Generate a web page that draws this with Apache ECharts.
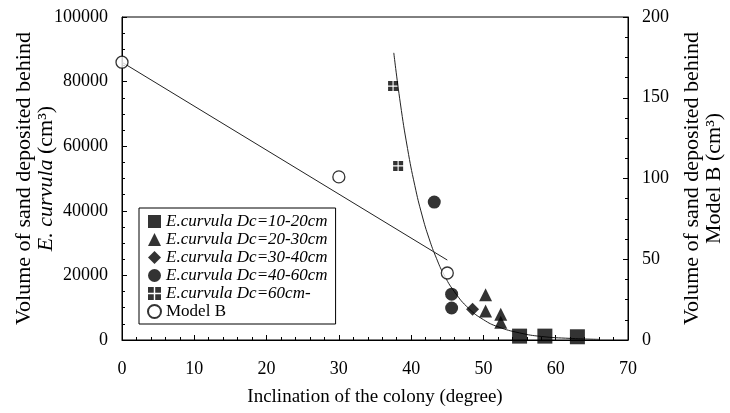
<!DOCTYPE html>
<html><head><meta charset="utf-8">
<script src="https://cdn.jsdelivr.net/npm/echarts@6/dist/echarts.min.js"></script>
<style>html,body{margin:0;padding:0;background:#fff}#c{width:730px;height:413px}</style>
</head><body><div id="c"></div>
<script>
// Data
const sq1020X = [55.0, 58.5, 63.0];
const sq1020Y = [1200, 1200, 1000];
const tri2030X = [50.3, 50.3, 52.4, 52.4];
const tri2030Y = [14000, 9000, 8000, 5500];
const dia3040X = [48.5];
const dia3040Y = [9500];
const cir4060X = [43.2, 45.6, 45.6];
const cir4060Y = [42700, 14200, 9900];
const sq60X = [37.5, 38.2];
const sq60Y = [78600, 53900];
const modelBX = [0, 30, 45];
const modelBY = [172, 101, 41.5];
const modelBLineX = [0, 45];
const modelBLineY = [172, 49.5];
const curveX = [37.6, 38.5, 39.5, 40.5, 41.5, 42.5, 43.5, 44.5, 46, 48, 50, 52, 55, 58, 62, 66];
const curveY = [88900, 73400, 59300, 47900, 38700, 31300, 25300, 20400, 14900, 9700, 6300, 4100, 2200, 1100, 500, 200];
const xTicks = [0, 10, 20, 30, 40, 50, 60, 70];
const legendNames = ['E.curvula Dc=10-20cm', 'E.curvula Dc=20-30cm', 'E.curvula Dc=30-40cm', 'E.curvula Dc=40-60cm', 'E.curvula Dc=60cm-', 'Model B'];

const zip = (a, b) => a.map((v, i) => [v, b[i]]);
const F = 'Liberation Serif, Times New Roman, serif';
const quad = 'path://M0,0h4v4h-4z M5,0h4v4h-4z M0,5h4v4h-4z M5,5h4v4h-4z';

const chart = echarts.init(document.getElementById('c'), null, {renderer: 'canvas'});
const tickStyle = {show: true, inside: true, length: 5, lineStyle: {color: '#000'}};
const axisCommon = {
  axisLine: {show: true, lineStyle: {color: '#000', width: 1}},
  axisTick: tickStyle,
  splitLine: {show: false},
  nameMoveOverlap: false
};
const lab = (m) => ({color: '#000', fontFamily: F, fontSize: 18, margin: m, formatter: v => String(v)});
chart.setOption({
  animation: false,
  backgroundColor: '#fff',
  grid: {left: 122, right: 102, top: 17, bottom: 73, show: true, borderColor: '#000', borderWidth: 1,
         containLabel: false, outerBoundsMode: 'none'},
  legend: {
    orient: 'vertical', left: 139, top: 208,
    data: legendNames,
    itemWidth: 13, itemHeight: 13, itemGap: 1,
    padding: [5, 8, 4, 8],
    borderColor: '#000', borderWidth: 1, backgroundColor: '#fff',
    textStyle: {fontFamily: F, fontSize: 17, fontStyle: 'italic', color: '#000', lineHeight: 17,
      rich: {n: {fontFamily: F, fontSize: 17, fontStyle: 'normal', color: '#000'}}},
    formatter: n => n === 'Model B' ? '{n|Model B}' : n
  },
  xAxis: Object.assign({}, axisCommon, {
    type: 'value', min: 0, max: 70, interval: 10,
    minorTick: {show: true, splitNumber: 5, length: 3, lineStyle: {color: '#000'}},
    axisLabel: lab(20),
    name: 'Inclination of the colony (degree)', nameLocation: 'middle', nameGap: 48,
    nameTextStyle: {color: '#000', fontFamily: F, fontSize: 19}
  }),
  yAxis: [
    Object.assign({}, axisCommon, {
      type: 'value', min: 0, max: 100000, interval: 20000, position: 'left',
      minorTick: {show: true, splitNumber: 4, length: 3, lineStyle: {color: '#000'}},
      axisLabel: lab(14),
      name: '{n|Volume of sand deposited behind}\n{i|E. curvula} {n|(cm³)}',
      nameLocation: 'middle', nameRotate: 90, nameGap: 65,
      nameTextStyle: {color: '#000', fontFamily: F, fontSize: 22, lineHeight: 22,
        rich: {n: {fontFamily: F, fontSize: 22, color: '#000', lineHeight: 22},
               i: {fontFamily: F, fontSize: 22, fontStyle: 'italic', color: '#000', lineHeight: 22}}}
    }),
    Object.assign({}, axisCommon, {
      type: 'value', min: 0, max: 200, interval: 50, position: 'right',
      minorTick: {show: true, splitNumber: 4, length: 3, lineStyle: {color: '#000'}},
      axisLabel: lab(14),
      name: 'Volume of sand deposited behind\nModel B (cm³)',
      nameLocation: 'middle', nameRotate: 90, nameGap: 53,
      nameTextStyle: {color: '#000', fontFamily: F, fontSize: 22, lineHeight: 22}
    })
  ],
  series: [
    {type: 'line', name: 'curve', data: zip(curveX, curveY), smooth: true, showSymbol: false, symbol: 'none',
     lineStyle: {color: '#222', width: 1}, z: 1, silent: true},
    {type: 'line', name: 'modelBFit', yAxisIndex: 1, data: zip(modelBLineX, modelBLineY), showSymbol: false, symbol: 'none',
     lineStyle: {color: '#222', width: 1}, z: 1, silent: true},
    {type: 'scatter', name: legendNames[0], data: zip(sq1020X, sq1020Y), symbol: 'rect', symbolSize: 15,
     itemStyle: {color: '#000'}, z: 3},
    {type: 'scatter', name: legendNames[1], data: zip(tri2030X, tri2030Y), symbol: 'triangle', symbolSize: 13,
     itemStyle: {color: '#000'}, z: 3},
    {type: 'scatter', name: legendNames[2], data: zip(dia3040X, dia3040Y), symbol: 'diamond', symbolSize: 13,
     itemStyle: {color: '#000'}, z: 3},
    {type: 'scatter', name: legendNames[3], data: zip(cir4060X, cir4060Y), symbol: 'circle', symbolSize: 13,
     itemStyle: {color: '#000'}, z: 3},
    {type: 'scatter', name: legendNames[4], data: zip(sq60X, sq60Y), symbol: quad, symbolSize: 10,
     itemStyle: {color: '#000'}, z: 3},
    {type: 'scatter', name: legendNames[5], yAxisIndex: 1, data: zip(modelBX, modelBY), symbol: 'circle', symbolSize: 12,
     itemStyle: {color: '#fff', borderColor: '#000', borderWidth: 1.3}, z: 4}
  ]
});
</script></body></html>
